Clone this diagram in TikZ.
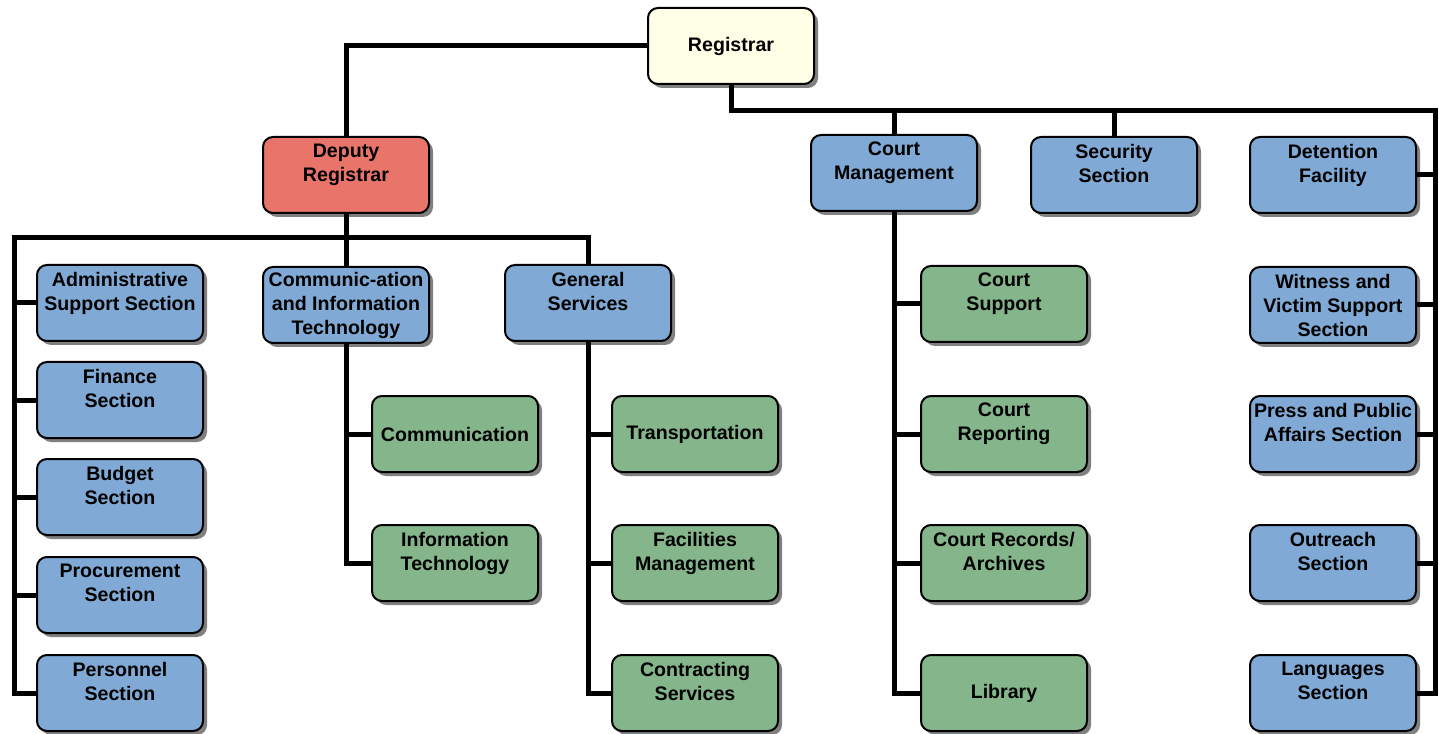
\documentclass[tikz,border=0pt]{standalone}
\usepackage{fontspec}
\setmainfont{Liberation Sans}
\usepackage{xcolor}
\usetikzlibrary{shadows}
\definecolor{headyellow}{RGB}{255,255,232}
\definecolor{deputyred}{RGB}{233,117,106}
\definecolor{unitblue}{RGB}{128,170,213}
\definecolor{subgreen}{RGB}{133,181,138}
% two-line labels sit in the upper part of the box
\newcommand{\lifted}[1]{#1\\\mbox{}}

\begin{document}
\begin{tikzpicture}[x=0.75pt, y=-0.75pt,
		font=\fontsize{14.7}{18}\selectfont\bfseries,
		unit/.style={draw=black, line width=1.5pt, rounded corners=7.5pt,
			align=center, minimum width=124.5pt, minimum height=57pt,
			inner sep=2pt,
			drop shadow={shadow xshift=3pt, shadow yshift=-3pt,
				fill=black!50, opacity=1}},
		blue/.style={unit, fill=unitblue},
		green/.style={unit, fill=subgreen},
		link/.style={line width=3.75pt}]
		\useasboundingbox (0,0) rectangle (1439,734);
		% top of the tree
		\node[unit, fill=headyellow] (reg) at (731,46) {Registrar};
		\node[unit, fill=deputyred] (dep) at (346,175) {\lifted{Deputy\\Registrar}};
		\node[blue] (cm) at (894,173) {\lifted{Court\\Management}};
		\node[blue] (sec) at (1114,175) {\lifted{Security\\Section}};
		\node[blue] (det) at (1333,175) {\lifted{Detention\\Facility}};
		% deputy registrar units
		\node[blue] (adm) at (120,303) {\lifted{Administrative\\Support Section}};
		\node[blue] (fin) at (120,400) {\lifted{Finance\\Section}};
		\node[blue] (bud) at (120,497) {\lifted{Budget\\Section}};
		\node[blue] (proc) at (120,595) {\lifted{Procurement\\Section}};
		\node[blue] (pers) at (120,693) {\lifted{Personnel\\Section}};
		\node[blue] (cit) at (346,305) {Communic-ation\\and Information\\Technology};
		\node[blue] (gen) at (588,303) {\lifted{General\\Services}};
		% communication and IT
		\node[green] (com) at (455,434) {Communication};
		\node[green] (it) at (455,563) {\lifted{Information\\Technology}};
		% general services
		\node[green] (trans) at (695,434) {Transportation};
		\node[green] (fac) at (695,563) {\lifted{Facilities\\Management}};
		\node[green] (con) at (695,693) {\lifted{Contracting\\Services}};
		% court management
		\node[green] (csup) at (1004,304) {\lifted{Court\\Support}};
		\node[green] (crep) at (1004,434) {\lifted{Court\\Reporting}};
		\node[green] (crec) at (1004,563) {\lifted{Court Records/\\Archives}};
		\node[green] (lib) at (1004,693) {Library};
		% right column
		\node[blue] (wit) at (1333,305) {Witness and\\Victim Support\\Section};
		\node[blue] (press) at (1333,434) {\lifted{Press and Public\\Affairs Section}};
		\node[blue] (out) at (1333,563) {\lifted{Outreach\\Section}};
		\node[blue] (lang) at (1333,693) {\lifted{Languages\\Section}};
		% bus corners
		\coordinate (lbus) at (14,238);
		\coordinate (rbus) at (1435,111);
		% connectors
		\draw[link] (reg.west) -| (dep.north);
		\draw[link] (dep.south) |- (lbus) |- (pers.west);
		\draw[link] (dep.south |- lbus) -| (gen.north);
		\draw[link] (dep.south |- lbus) -- (cit.north);
		\foreach \n in {adm,fin,bud,proc}
		\draw[link] (lbus |- \n.west) -- (\n.west);
		\draw[link] (cit.south) |- (it.west);
		\draw[link] (cit.south |- com.west) -- (com.west);
		\draw[link] (gen.south) |- (con.west);
		\foreach \n in {trans,fac}
		\draw[link] (gen.south |- \n.west) -- (\n.west);
		\draw[link] (reg.south) |- (rbus) |- (lang.east);
		\foreach \n in {cm,sec}
		\draw[link] (\n.north |- rbus) -- (\n.north);
		\foreach \n in {det,wit,press,out}
		\draw[link] (rbus |- \n.east) -- (\n.east);
		\draw[link] (cm.south) |- (lib.west);
		\foreach \n in {csup,crep,crec}
		\draw[link] (cm.south |- \n.west) -- (\n.west);
	\end{tikzpicture}
\end{document}
